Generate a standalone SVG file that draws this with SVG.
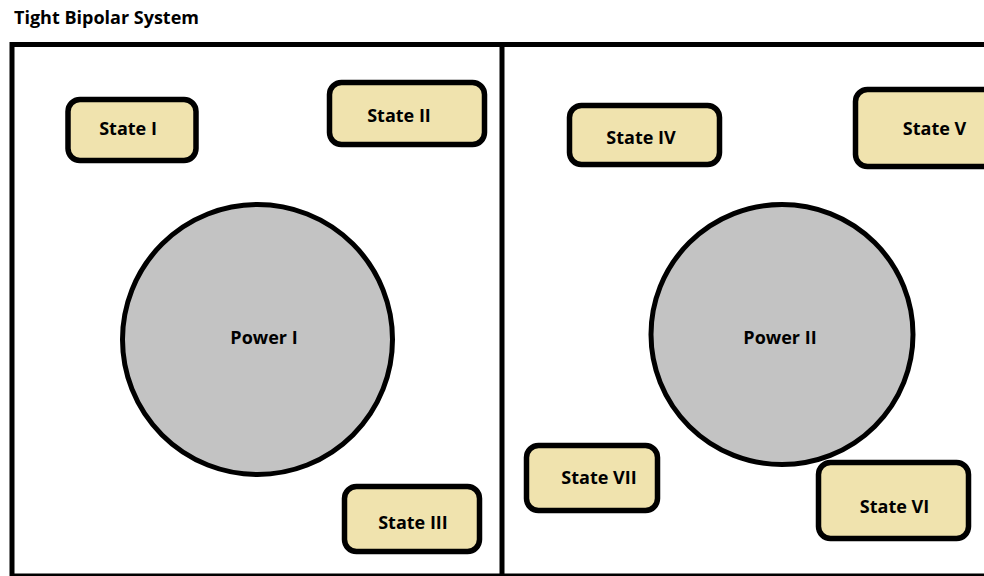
<svg xmlns="http://www.w3.org/2000/svg" width="984" height="576" viewBox="0 0 984 576">
<style>
.frame{fill:none;stroke:#000;stroke-width:5}
.state{fill:#F0E3AE;stroke:#000;stroke-width:5.5}
.power{fill:#C3C3C3;stroke:#000;stroke-width:5}
.lbl{font-family:"Open Sans","Liberation Sans",sans-serif;font-weight:bold;font-size:18px;fill:#000;text-anchor:middle}
.title{font-family:"Open Sans","Liberation Sans",sans-serif;font-weight:bold;font-size:18px;fill:#000}
</style>
<rect width="984" height="576" fill="#fff"/>
<text class="title" x="14" y="24">Tight Bipolar System</text>
<g id="frame">
<path class="frame" d="M12,577 V44.5 H990"/>
<line class="frame" x1="502" y1="44.5" x2="502" y2="577"/>
<line x1="12" y1="575" x2="990" y2="575" stroke="#000" stroke-width="3"/>
</g>
<g id="connectors"></g>
<g id="power1"><circle class="power" cx="257.5" cy="339.5" r="135"/><text class="lbl" x="264" y="344">Power I</text></g>
<g id="power2"><ellipse class="power" cx="782" cy="334.5" rx="131" ry="130"/><text class="lbl" x="780" y="344">Power II</text></g>
<g id="state1"><rect class="state" x="68" y="99.5" width="128" height="61" rx="12"/><text class="lbl" x="128" y="135">State I</text></g>
<g id="state2"><rect class="state" x="329.5" y="82.5" width="155" height="62" rx="12"/><text class="lbl" x="399" y="122">State II</text></g>
<g id="state3"><rect class="state" x="344.5" y="486.5" width="135" height="65" rx="12"/><text class="lbl" x="413" y="529">State III</text></g>
<g id="state4"><rect class="state" x="569.5" y="105.5" width="150" height="59" rx="12"/><text class="lbl" x="641" y="144">State IV</text></g>
<g id="state5"><rect class="state" x="855.5" y="89.5" width="140" height="77" rx="12"/><text class="lbl" x="934.5" y="135">State V</text></g>
<g id="state6"><rect class="state" x="818.5" y="462.5" width="150" height="76" rx="12"/><text class="lbl" x="894.5" y="513">State VI</text></g>
<g id="state7"><rect class="state" x="526.5" y="445.5" width="131" height="65" rx="12"/><text class="lbl" x="599" y="484">State VII</text></g>
</svg>
